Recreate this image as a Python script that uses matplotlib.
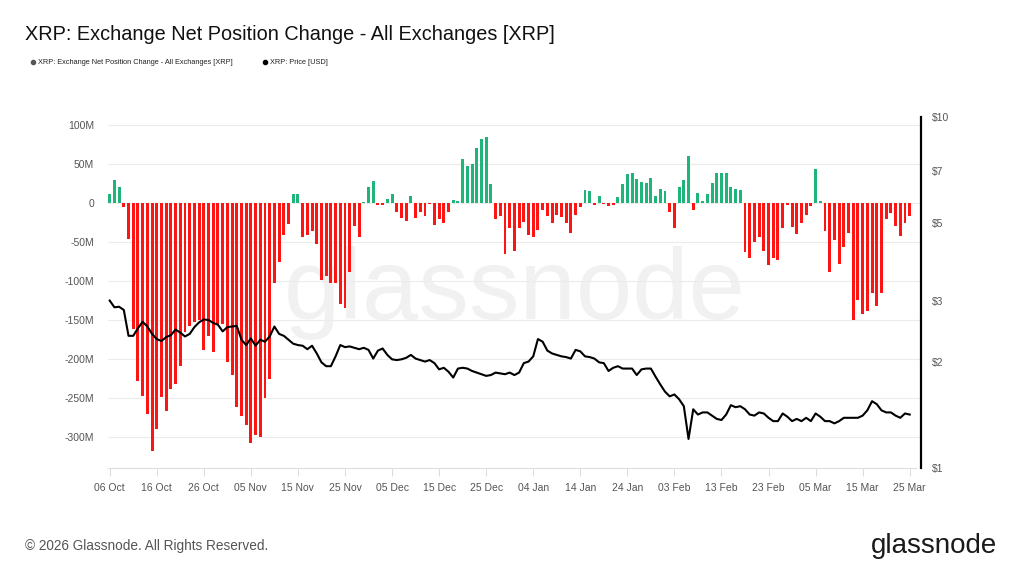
import pandas as pd
import matplotlib
matplotlib.use("Agg")
import matplotlib.pyplot as plt
import matplotlib.dates as mdates
from matplotlib.lines import Line2D

plt.rcParams['font.family'] = ['Liberation Sans', 'DejaVu Sans']

dates = pd.date_range('2025-10-06', '2026-03-25', freq='D')

# exchange net position change, millions of XRP
net_change = [
    12, 30, 20, -5, -46, -162, -228, -247, -270, -318,
    -290, -249, -267, -238, -232, -209, -165, -158, -152, -150,
    -188, -171, -191, -155, -155, -204, -220, -261, -273, -284,
    -308, -297, -300, -250, -225, -103, -75, -41, -27, 12,
    12, -44, -41, -36, -53, -99, -94, -103, -103, -130,
    -135, -88, -30, -44, 1, 20, 28, -3, -3, 5,
    12, -12, -19, -23, 9, -19, -11, -16, -1, -28,
    -21, -26, -12, 4, 2, 56, 47, 50, 71, 82,
    85, 24, -20, -17, -65, -32, -62, -32, -24, -41,
    -43, -34, -9, -17, -26, -15, -18, -26, -38, -15,
    -5, 17, 16, -2, 9, -1, -4, -3, 8, 24,
    37, 39, 31, 27, 26, 32, 9, 18, 16, -12,
    -32, 20, 29, 60, -9, 13, 3, 12, 26, 38,
    39, 38, 20, 18, 17, -63, -71, -50, -43, -61,
    -79, -70, -73, -32, -3, -31, -40, -26, -15, -4,
    44, 2, -36, -88, -47, -78, -56, -38, -150, -124,
    -142, -138, -115, -132, -115, -21, -13, -30, -42, -26,
    -17,
]

# XRP price, USD
price = [
    3.00, 2.87, 2.88, 2.82, 2.38, 2.38, 2.50, 2.61, 2.53, 2.41,
    2.33, 2.30, 2.36, 2.39, 2.48, 2.43, 2.37, 2.41, 2.52, 2.60,
    2.65, 2.64, 2.59, 2.56, 2.45, 2.52, 2.53, 2.54, 2.32, 2.24,
    2.34, 2.23, 2.32, 2.29, 2.37, 2.53, 2.41, 2.38, 2.32, 2.26,
    2.24, 2.23, 2.18, 2.23, 2.12, 2.00, 1.95, 1.95, 2.08, 2.24,
    2.21, 2.22, 2.20, 2.18, 2.20, 2.17, 2.05, 2.16, 2.19, 2.10,
    2.04, 2.03, 2.04, 2.06, 2.10, 2.05, 2.03, 2.01, 2.03, 1.99,
    1.91, 1.93, 1.88, 1.81, 1.92, 1.93, 1.92, 1.89, 1.87, 1.85,
    1.83, 1.84, 1.87, 1.86, 1.85, 1.87, 1.84, 1.87, 1.99, 2.01,
    2.08, 2.33, 2.29, 2.16, 2.12, 2.10, 2.08, 2.07, 2.05, 2.17,
    2.15, 2.08, 2.07, 2.05, 2.00, 1.99, 1.89, 1.93, 1.95, 1.92,
    1.92, 1.92, 1.84, 1.91, 1.92, 1.92, 1.82, 1.73, 1.65, 1.60,
    1.62, 1.57, 1.50, 1.21, 1.47, 1.42, 1.44, 1.44, 1.41, 1.38,
    1.37, 1.42, 1.51, 1.49, 1.50, 1.47, 1.42, 1.41, 1.44, 1.43,
    1.39, 1.36, 1.36, 1.43, 1.40, 1.36, 1.38, 1.36, 1.39, 1.36,
    1.43, 1.40, 1.36, 1.36, 1.34, 1.36, 1.39, 1.39, 1.39, 1.39,
    1.41, 1.46, 1.55, 1.52, 1.46, 1.44, 1.44, 1.41, 1.39, 1.43,
    1.42,
]

tick_dates = pd.date_range('2025-10-06', '2026-03-25', freq='10D')
left_ticks = [100, 50, 0, -50, -100, -150, -200, -250, -300]
left_labels = ['100M', '50M', '0', '-50M', '-100M', '-150M', '-200M', '-250M', '-300M']
price_ticks = [1, 2, 3, 5, 7, 10]
price_labels = ['$1', '$2', '$3', '$5', '$7', '$10']

green = '#1fb57a'
red = '#ff1414'
colors = [green if v >= 0 else red for v in net_change]

W, H = 1024, 576
fig = plt.figure(figsize=(W / 100, H / 100), dpi=100)
ax = fig.add_axes([108 / W, (H - 468) / H, (921 - 108) / W, 351 / H])
ax.set_facecolor('none')

ax.bar(dates, net_change, width=0.62, color=colors, zorder=2)

d0 = mdates.date2num(dates[0])
ax.set_xlim(d0 - 0.36, d0 + 172.4)
ax.set_ylim(-339.7, 110.3)
ax.set_yticks(left_ticks)
ax.set_yticklabels(left_labels)
ax.set_xticks(tick_dates)
ax.xaxis.set_major_formatter(mdates.DateFormatter('%d %b'))
ax.grid(axis='y', color='#ececec', linewidth=0.8, zorder=0)
ax.tick_params(axis='y', length=0, pad=10, labelsize=7.5, labelcolor='#555555')
ax.tick_params(axis='x', length=6, width=0.8, color='#dddddd', pad=5,
               labelsize=7.5, labelcolor='#555555')
for s in ['top', 'left', 'right']:
    ax.spines[s].set_visible(False)
ax.spines['bottom'].set_color('#dddddd')
ax.spines['bottom'].set_bounds(d0 - 0.36, d0 + 171.3)

# watermark behind the bars
ax.text(0.5, 0.5, 'glassnode', transform=ax.transAxes, ha='center', va='center',
        fontsize=73, color='#f1f1f1', zorder=0)

ax2 = ax.twinx()
ax2.plot(dates, price, color='black', linewidth=1.5, zorder=3)
ax2.set_yscale('log')
ax2.set_ylim(1, 10)
ax2.yaxis.set_major_locator(matplotlib.ticker.FixedLocator(price_ticks))
ax2.yaxis.set_minor_locator(matplotlib.ticker.NullLocator())
ax2.set_yticklabels(price_labels)
ax2.tick_params(axis='y', length=0, pad=8, labelsize=7.5, labelcolor='#555555')
for s in ['top', 'left', 'bottom']:
    ax2.spines[s].set_visible(False)
ax2.spines['right'].set_color('black')
ax2.spines['right'].set_linewidth(1.6)

fig.text(25 / W, 1 - 35 / H, 'XRP: Exchange Net Position Change - All Exchanges [XRP]',
         fontsize=14.3, color='#111111', va='center')

fig.add_artist(Line2D([33 / W], [1 - 62 / H], marker='o', markersize=3,
                      color='#555555', transform=fig.transFigure))
fig.text(38 / W, 1 - 62 / H, 'XRP: Exchange Net Position Change - All Exchanges [XRP]',
         fontsize=5.3, color='#222222', va='center')
fig.add_artist(Line2D([265 / W], [1 - 62 / H], marker='o', markersize=3,
                      color='black', transform=fig.transFigure))
fig.text(270 / W, 1 - 62 / H, 'XRP: Price [USD]',
         fontsize=5.3, color='#222222', va='center')

fig.text(25 / W, 1 - 546 / H, '\u00a9 2026 Glassnode. All Rights Reserved.',
         fontsize=9.8, color='#555555', va='center')
fig.text(997 / W, 1 - 546 / H, 'glassnode', fontsize=20, color='#1a1a1a',
         ha='right', va='center')

fig.savefig('out.png', dpi=100, facecolor='white')
